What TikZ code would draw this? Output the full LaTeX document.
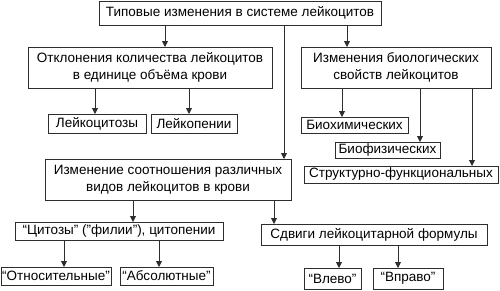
\documentclass[tikz,border=0pt]{standalone}
\usepackage{fontspec}
\setmainfont{Liberation Sans}
\usetikzlibrary{arrows.meta}
\definecolor{ln}{RGB}{45,45,45}
\begin{document}
\begin{tikzpicture}[x=1pt,y=-1pt,
  bx/.style={draw=ln,line width=0.9pt,inner sep=0pt,outer sep=0pt,align=center,
    font=\fontsize{13.5}{17}\selectfont,text=black},
  arr/.style={draw=ln,line width=0.9pt,-{Triangle[length=6pt,width=6pt]}}]
\useasboundingbox (0,0) rectangle (500,290);
\node[bx,minimum width=282pt,minimum height=24pt] (top) at (240,13) {Типовые изменения в системе лейкоцитов};
\node[bx,minimum width=244pt,minimum height=41pt] (b2) at (150,67.5) {Отклонения количества лейкоцитов\\в единице объёма крови};
\node[bx,minimum width=190pt,minimum height=41pt] (b3) at (396,67.5) {Изменения биологических\\свойств лейкоцитов};
\node[bx,minimum width=246pt,minimum height=41pt] (b4) at (168,179.5) {Изменение соотношения различных\\видов лейкоцитов в крови};
\node[bx,minimum width=98pt,minimum height=19pt] (lc) at (97,123.5) {Лейкоцитозы};
\node[bx,minimum width=86pt,minimum height=19pt] (lp) at (194,123.5) {Лейкопении};
\node[bx,minimum width=107pt,minimum height=16pt] (bh) at (354.5,125) {Биохимических};
\node[bx,minimum width=105pt,minimum height=16pt] (bf) at (387.5,150) {Биофизических};
\node[bx,minimum width=194pt,minimum height=17pt] (sf) at (401,174.5) {Структурно-функциональных};
\node[bx,minimum width=208pt,minimum height=18pt] (ct) at (119,231) {“Цитозы” ("филии"), цитопении};
\node[bx,minimum width=226pt,minimum height=21pt] (sd) at (374,234.5) {Сдвиги лейкоцитарной формулы};
\node[bx,minimum width=110pt,minimum height=18pt] (ot) at (56,276) {“Относительные”};
\node[bx,minimum width=93pt,minimum height=18pt] (ab) at (166.5,276) {“Абсолютные”};
\node[bx,minimum width=57pt,minimum height=21pt] (vl) at (332.5,278.5) {“Влево”};
\node[bx,minimum width=70pt,minimum height=21pt] (vp) at (408,278.5) {“Вправо”};
\coordinate (x1) at (165,0);
\coordinate (x2) at (347,0);
\coordinate (x3) at (284,0);
\coordinate (x4) at (95,0);
\coordinate (x5) at (189,0);
\coordinate (x6) at (342,0);
\coordinate (x7) at (420,0);
\coordinate (x8) at (472,0);
\coordinate (x9) at (133,0);
\coordinate (x10) at (274,0);
\coordinate (x11) at (64,0);
\coordinate (x12) at (159,0);
\coordinate (x13) at (339,0);
\coordinate (x14) at (398,0);
\draw[arr] (top.south -| x1) -- (b2.north -| x1);
\draw[arr] (top.south -| x2) -- (b3.north -| x2);
\draw[arr] (top.south -| x3) -- (b4.north -| x3);
\draw[arr] (b2.south -| x4) -- (lc.north -| x4);
\draw[arr] (b2.south -| x5) -- (lp.north -| x5);
\draw[arr] (b3.south -| x6) -- (bh.north -| x6);
\draw[arr] (b3.south -| x7) -- (bf.north -| x7);
\draw[arr] (b3.south -| x8) -- (sf.north -| x8);
\draw[arr] (b4.south -| x9) -- (ct.north -| x9);
\draw[arr] (b4.south -| x10) -- (sd.north -| x10);
\draw[arr] (ct.south -| x11) -- (ot.north -| x11);
\draw[arr] (ct.south -| x12) -- (ab.north -| x12);
\draw[arr] (sd.south -| x13) -- (vl.north -| x13);
\draw[arr] (sd.south -| x14) -- (vp.north -| x14);
\end{tikzpicture}
\end{document}
